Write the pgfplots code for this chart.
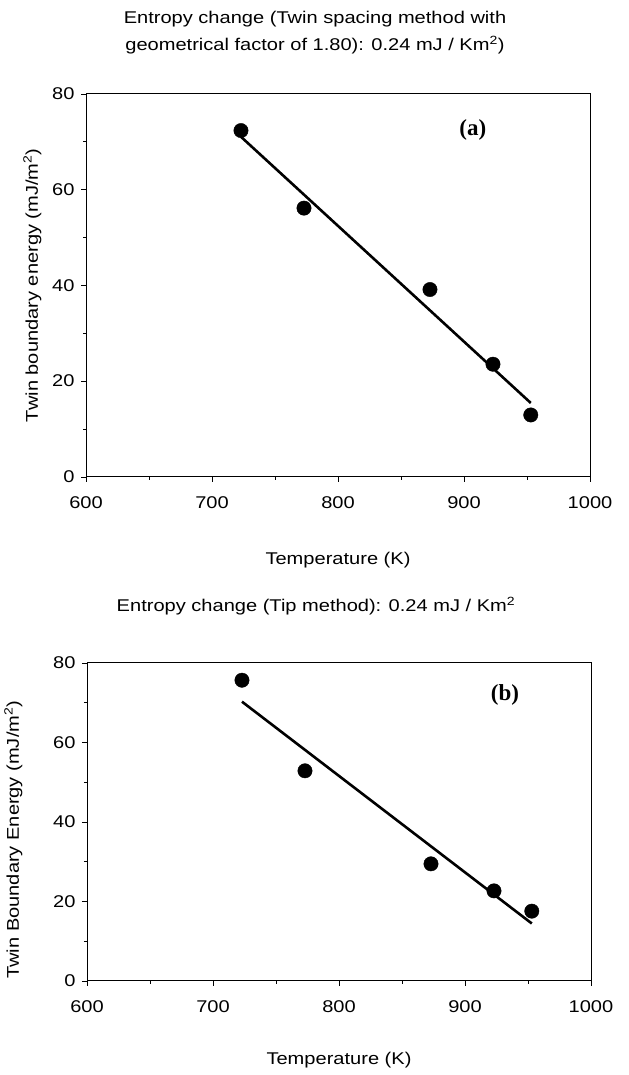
\documentclass[border=0pt]{standalone}
\usepackage{fontspec}
\setmainfont{Liberation Sans}[FakeStretch=1.18]
\newfontfamily\lblfont{Liberation Serif}
\usepackage{pgfplots}
\pgfplotsset{compat=1.18}

\pgfplotsset{
  twin/.style={
    scale only axis, width=504bp,
    xmin=600, xmax=1000, ymin=0, ymax=80,
    xtick={600,700,...,1000}, ytick={0,20,...,80},
    minor x tick num=1, minor y tick num=1,
    xtick pos=left, ytick pos=left, tick align=outside,
    major tick length=5bp, minor tick length=3bp,
    every tick/.style={black, thin},
    axis line style={black, line width=0.9bp},
    tick label style={font=\fontsize{17bp}{20bp}\selectfont},
    label style={font=\fontsize{17bp}{20bp}\selectfont},
    /pgf/number format/assume math mode=true,
    /pgf/number format/1000 sep={},
    xticklabel style={yshift=-11bp},
    yticklabel style={xshift=-3bp},
    xlabel style={yshift=-37bp},
    title style={font=\fontsize{17bp}{27bp}\selectfont, align=center},
    clip=false,
  },
}

\begin{document}
\begin{tikzpicture}
\useasboundingbox (0,0) rectangle (629bp,-1075bp);
% --- panel (a) ---
\begin{axis}[
    twin, height=383bp,
    at={(86bp,-476.7bp)}, anchor=south west,
    ylabel={Twin boundary energy (mJ/m\textsuperscript{2})},
    ylabel style={yshift=4bp},
    xlabel={Temperature (K)},
    title={Entropy change (Twin spacing method with\\geometrical factor of 1.80): 0.24 mJ / Km\textsuperscript{2})},
    title style={xshift=-23bp, yshift=30bp},
]
\addplot[black, line width=2.6bp] coordinates {(723,71.0) (953,15.4)};
\addplot[only marks, mark=*, mark size=7.2bp, black] coordinates {
  (723,72.3) (773,56.1) (873,39.1) (923,23.5) (953,12.9)};
\node[font=\lblfont\bfseries\fontsize{23bp}{26bp}\selectfont] at (axis cs:907,72.4) {(a)};
\end{axis}
% --- panel (b) ---
\begin{axis}[
    twin, height=318bp,
    at={(87bp,-980.7bp)}, anchor=south west,
    ylabel={Twin Boundary Energy (mJ/m\textsuperscript{2})},
    ylabel style={yshift=24bp, xshift=-18bp},
    xlabel={Temperature (K)},
    xlabel style={yshift=4bp},
    title={Entropy change (Tip method): 0.24 mJ / Km\textsuperscript{2}},
    title style={xshift=-23bp, yshift=38bp},
]
\addplot[black, line width=2.6bp] coordinates {(723,70.2) (953,14.4)};
\addplot[only marks, mark=*, mark size=7.2bp, black] coordinates {
  (723,75.6) (773,52.8) (873,29.4) (923,22.6) (953,17.5)};
\node[font=\lblfont\bfseries\fontsize{23bp}{26bp}\selectfont] at (axis cs:931.7,71.9) {(b)};
\end{axis}
\end{tikzpicture}
\end{document}
